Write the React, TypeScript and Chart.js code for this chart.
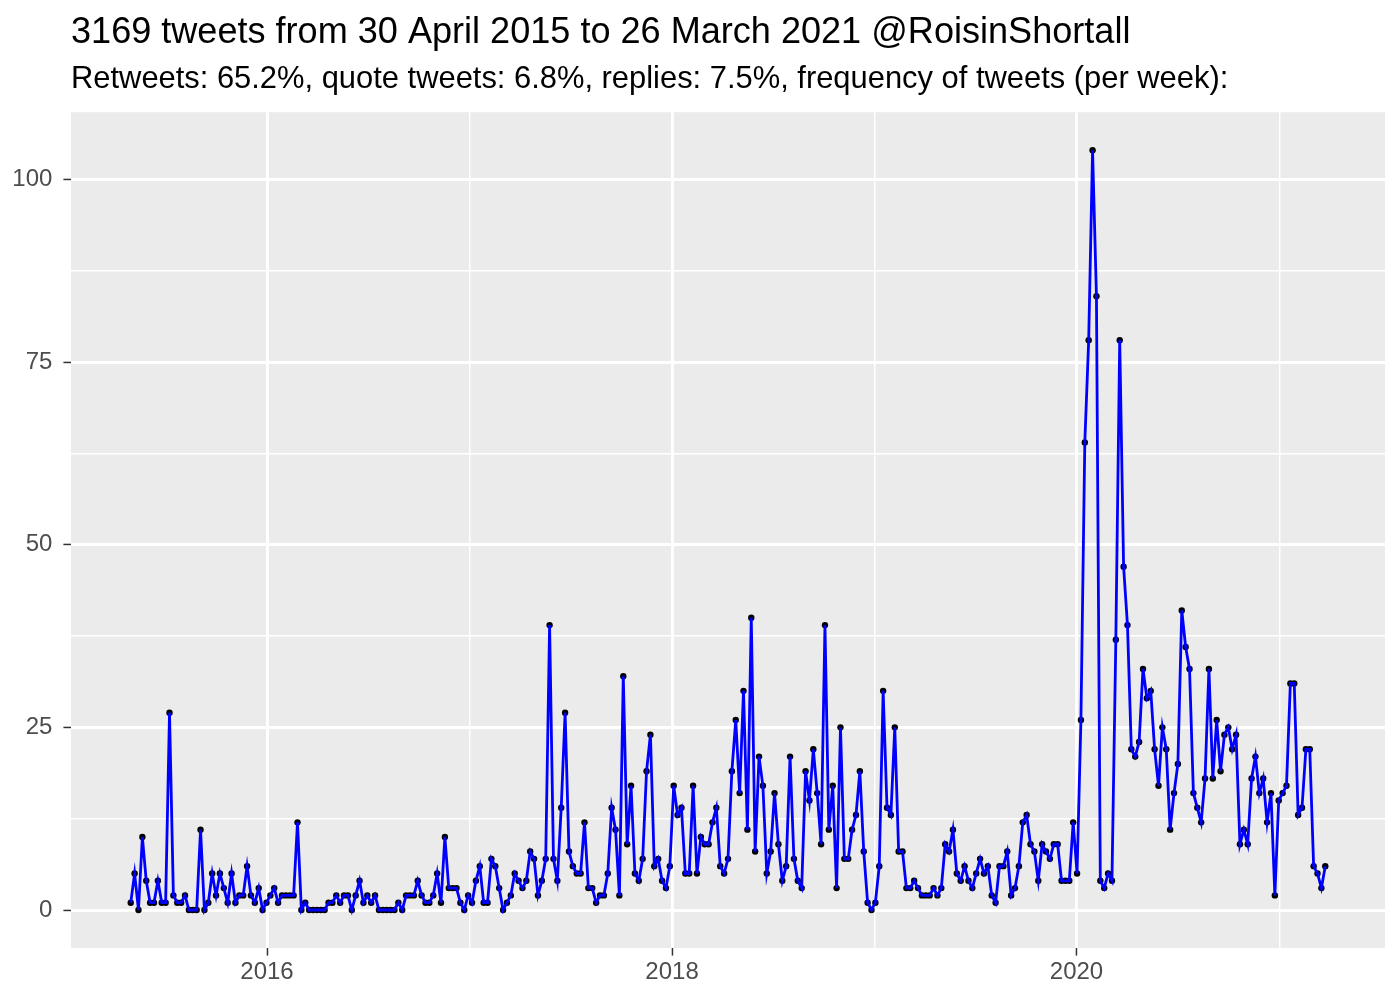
import React, { useEffect, useRef } from 'react';
import { Chart, registerables } from 'chart.js';

Chart.register(...registerables);

const titleText = '3169 tweets from 30 April 2015 to 26 March 2021 @RoisinShortall';
const subtitleText =
  'Retweets: 65.2%, quote tweets: 6.8%, replies: 7.5%, frequency of tweets (per week):';

// first week of the series; one value per week after that
const firstWeek = '2015-04-30';
const weeklyTweets = [
  1, 5, 0, 10, 4, 1, 1, 4, 1, 1,
  27, 2, 1, 1, 2, 0, 0, 0, 11, 0,
  1, 5, 2, 5, 3, 1, 5, 1, 2, 2,
  6, 2, 1, 3, 0, 1, 2, 3, 1, 2,
  2, 2, 2, 12, 0, 1, 0, 0, 0, 0,
  0, 1, 1, 2, 1, 2, 2, 0, 2, 4,
  1, 2, 1, 2, 0, 0, 0, 0, 0, 1,
  0, 2, 2, 2, 4, 2, 1, 1, 2, 5,
  1, 10, 3, 3, 3, 1, 0, 2, 1, 4,
  6, 1, 1, 7, 6, 3, 0, 1, 2, 5,
  4, 3, 4, 8, 7, 2, 4, 7, 39, 7,
  4, 14, 27, 8, 6, 5, 5, 12, 3, 3,
  1, 2, 2, 5, 14, 11, 2, 32, 9, 17,
  5, 4, 7, 19, 24, 6, 7, 4, 3, 6,
  17, 13, 14, 5, 5, 17, 5, 10, 9, 9,
  12, 14, 6, 5, 7, 19, 26, 16, 30, 11,
  40, 8, 21, 17, 5, 8, 16, 9, 4, 6,
  21, 7, 4, 3, 19, 15, 22, 16, 9, 39,
  11, 17, 3, 25, 7, 7, 11, 13, 19, 8,
  1, 0, 1, 6, 30, 14, 13, 25, 8, 8,
  3, 3, 4, 3, 2, 2, 2, 3, 2, 3,
  9, 8, 11, 5, 4, 6, 4, 3, 5, 7,
  5, 6, 2, 1, 6, 6, 8, 2, 3, 6,
  12, 13, 9, 8, 4, 9, 8, 7, 9, 9,
  4, 4, 4, 12, 5, 26, 64, 78, 104, 84,
  4, 3, 5, 4, 37, 78, 47, 39, 22, 21,
  23, 33, 29, 30, 22, 17, 25, 22, 11, 16,
  20, 41, 36, 33, 16, 14, 12, 18, 33, 18,
  26, 19, 24, 25, 22, 24, 9, 11, 9, 18,
  21, 16, 18, 12, 16, 2, 15, 16, 17, 31,
  31, 13, 14, 22, 22, 6, 5, 3, 6,
];

const yMajorTicks = [0, 25, 50, 75, 100];
const yMinorTicks = [12.5, 37.5, 62.5, 87.5];
const xMajorYears = [2016, 2018, 2020];
const xMinorYears = [2015, 2017, 2019, 2021];

const FONT = "'Liberation Sans', Arial, Helvetica, sans-serif";
const DAY = 86400000;
const ORIGIN = Date.UTC(2016, 0, 1);

const yearToDay = (y: number) => (Date.UTC(y, 0, 1) - ORIGIN) / DAY;
const startDay = (Date.parse(firstWeek + 'T00:00:00Z') - ORIGIN) / DAY;

const points = weeklyTweets.map((v, i) => ({ x: startDay + 7 * i, y: v }));

const xFirst = points[0].x;
const xLast = points[points.length - 1].x;
const xMin = xFirst - 0.05 * (xLast - xFirst);
const xMax = xLast + 0.05 * (xLast - xFirst);
const yDataMax = Math.max(...weeklyTweets);
const yMin = -0.05 * yDataMax;
const yMax = yDataMax * 1.05;

const xMajorDays = xMajorYears.map(yearToDay);

const panelBg = {
  id: 'panelBg',
  beforeDraw(chart: any) {
    const { ctx, chartArea: a, width, height } = chart;
    ctx.save();
    ctx.fillStyle = '#FFFFFF';
    ctx.fillRect(0, 0, width, height);
    ctx.fillStyle = '#EBEBEB';
    ctx.fillRect(a.left, a.top, a.right - a.left, a.bottom - a.top);
    ctx.restore();
  },
};

export default function App() {
  const ref = useRef<HTMLCanvasElement | null>(null);

  useEffect(() => {
    if (!ref.current) return;
    const chart = new Chart(ref.current, {
      type: 'line',
      data: {
        datasets: [
          {
            data: points,
            borderColor: '#0000FF',
            borderWidth: 2.8,
            pointRadius: 0,
            pointHoverRadius: 0,
            fill: false,
            tension: 0,
            order: 0,
          },
          {
            data: points,
            showLine: false,
            pointRadius: 3.2,
            pointHoverRadius: 3.2,
            pointBackgroundColor: '#000000',
            pointBorderWidth: 0,
            borderColor: '#000000',
            order: 1,
          },
        ],
      },
      options: {
        animation: false,
        responsive: false,
        devicePixelRatio: 1,
        layout: { padding: { left: 0, right: 15, top: 0, bottom: 0 } },
        plugins: {
          legend: { display: false },
          tooltip: { enabled: false },
          title: {
            display: true,
            text: titleText,
            align: 'start',
            fullSize: false,
            color: '#000000',
            font: { family: FONT, size: 36.1, weight: 'normal', lineHeight: 1.2 },
            padding: { top: 11, bottom: 0 },
          },
          subtitle: {
            display: true,
            text: subtitleText,
            align: 'start',
            fullSize: false,
            color: '#000000',
            font: { family: FONT, size: 30.9, weight: 'normal', lineHeight: 1.2 },
            padding: { top: 6.8, bottom: 14 },
          },
        },
        scales: {
          x: {
            type: 'linear',
            min: xMin,
            max: xMax,
            afterFit: (s: any) => {
              s.height = 52;
            },
            afterBuildTicks: (s: any) => {
              s.ticks = [...xMajorYears, ...xMinorYears]
                .map(yearToDay)
                .filter((v) => v >= xMin && v <= xMax)
                .sort((a, b) => a - b)
                .map((v) => ({ value: v }));
            },
            border: { display: false },
            grid: {
              color: '#FFFFFF',
              lineWidth: (c: any) => (xMajorDays.includes(c.tick?.value) ? 2.9 : 1.45),
              tickColor: (c: any) =>
                xMajorDays.includes(c.tick?.value) ? '#333333' : 'rgba(0,0,0,0)',
              tickWidth: 1.5,
              tickLength: 7.6,
            },
            ticks: {
              autoSkip: false,
              maxRotation: 0,
              padding: 2,
              color: '#4D4D4D',
              font: { family: FONT, size: 24 },
              callback: (v: any) => {
                const idx = xMajorDays.indexOf(v);
                return idx >= 0 ? String(xMajorYears[idx]) : '';
              },
            },
          },
          y: {
            type: 'linear',
            min: yMin,
            max: yMax,
            afterFit: (s: any) => {
              s.width = 71;
            },
            afterBuildTicks: (s: any) => {
              s.ticks = [...yMajorTicks, ...yMinorTicks]
                .sort((a, b) => a - b)
                .map((v) => ({ value: v }));
            },
            border: { display: false },
            grid: {
              color: '#FFFFFF',
              lineWidth: (c: any) => (yMajorTicks.includes(c.tick?.value) ? 2.9 : 1.45),
              tickColor: (c: any) =>
                yMajorTicks.includes(c.tick?.value) ? '#333333' : 'rgba(0,0,0,0)',
              tickWidth: 1.5,
              tickLength: 7.6,
            },
            ticks: {
              autoSkip: false,
              padding: 11,
              color: '#4D4D4D',
              font: { family: FONT, size: 24 },
              callback: (v: any) => (yMajorTicks.includes(v) ? String(v) : ''),
            },
          },
        },
      },
      plugins: [panelBg],
    });
    return () => chart.destroy();
  }, []);

  return (
    <div style={{ position: 'absolute', left: 0, top: 0, width: 1400, height: 1000 }}>
      <canvas ref={ref} width={1400} height={1000} style={{ width: 1400, height: 1000 }} />
    </div>
  );
}
